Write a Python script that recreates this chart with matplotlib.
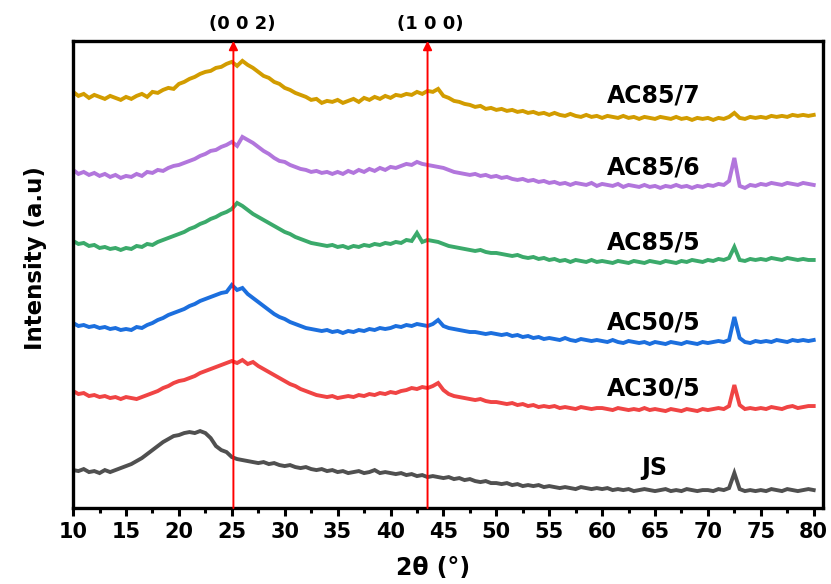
import numpy as np
import matplotlib
matplotlib.use("Agg")
import matplotlib.pyplot as plt
from matplotlib.ticker import MultipleLocator

plt.rcParams["font.family"] = ["DejaVu Sans"]
plt.rcParams["font.weight"] = "bold"

# 2theta grid (deg), 0.5 deg step
two_theta = np.arange(10.0, 80.01, 0.5)

# offset intensities (a.u.)
ac85_7 = [416, 412, 414, 410, 413, 411, 409, 412, 410, 408,
          411, 409, 412, 414, 411, 416, 415, 418, 420, 419,
          424, 426, 429, 431, 434, 436, 437, 440, 441, 444,
          446, 442, 447, 443, 440, 436, 432, 430, 426, 424,
          420, 418, 415, 413, 411, 408, 409, 405, 407, 406,
          408, 405, 407, 409, 406, 410, 408, 411, 409, 412,
          410, 413, 412, 414, 413, 416, 414, 417, 416, 419,
          412, 410, 407, 406, 404, 403, 401, 402, 399, 400,
          398, 399, 397, 398, 396, 397, 395, 396, 394, 395,
          393, 395, 393, 392, 394, 392, 391, 393, 391, 392,
          390, 392, 391, 390, 392, 390, 391, 389, 391, 390,
          389, 391, 390, 389, 391, 389, 390, 388, 390, 389,
          390, 388, 390, 389, 391, 395, 390, 389, 391, 390,
          391, 390, 392, 391, 392, 391, 393, 392, 393, 392,
          393]
ac85_6 = [338, 334, 336, 333, 335, 332, 334, 331, 333, 330,
          332, 331, 334, 332, 336, 335, 338, 337, 340, 342,
          343, 345, 347, 349, 352, 354, 357, 358, 361, 363,
          366, 362, 371, 368, 365, 361, 357, 354, 350, 347,
          346, 343, 341, 339, 338, 336, 337, 335, 336, 334,
          336, 334, 337, 335, 338, 336, 339, 337, 340, 338,
          341, 340, 342, 344, 343, 346, 344, 343, 342, 341,
          340, 338, 336, 335, 334, 333, 334, 332, 333, 331,
          332, 330, 331, 329, 328, 329, 327, 328, 326, 327,
          325, 326, 324, 325, 323, 325, 324, 323, 325, 322,
          324, 323, 322, 324, 321, 323, 322, 321, 323, 321,
          322, 320, 322, 321, 323, 321, 322, 320, 322, 321,
          323, 322, 324, 323, 327, 350, 322, 320, 323, 322,
          324, 323, 325, 324, 323, 325, 324, 323, 325, 324,
          323]
ac85_5 = [267, 264, 265, 262, 263, 260, 261, 259, 260, 258,
          260, 259, 262, 261, 264, 263, 266, 268, 270, 272,
          274, 276, 279, 281, 284, 286, 289, 291, 294, 296,
          299, 305, 302, 298, 294, 291, 288, 285, 282, 279,
          276, 274, 271, 269, 267, 265, 264, 263, 262, 263,
          261, 262, 260, 262, 261, 263, 262, 264, 263, 265,
          264, 266, 265, 268, 267, 275, 266, 268, 267, 266,
          264, 262, 261, 260, 259, 258, 257, 258, 256, 255,
          255, 254, 253, 252, 253, 251, 250, 251, 249, 250,
          248, 249, 247, 248, 246, 248, 247, 246, 248, 246,
          247, 246, 245, 247, 246, 245, 247, 246, 245, 247,
          246, 245, 247, 246, 245, 247, 246, 248, 247, 246,
          248, 247, 249, 248, 250, 261, 248, 247, 249, 248,
          249, 248, 250, 249, 248, 250, 249, 248, 249, 248,
          248]
ac50_5 = [185, 182, 183, 181, 182, 180, 181, 179, 180, 178,
          179, 178, 181, 180, 183, 185, 188, 190, 193, 195,
          197, 199, 202, 204, 207, 209, 211, 213, 215, 216,
          223, 218, 220, 214, 210, 206, 202, 198, 194, 191,
          189, 186, 184, 182, 180, 179, 178, 177, 178, 176,
          177, 175, 177, 176, 178, 177, 179, 178, 180, 179,
          180, 182, 181, 183, 182, 184, 183, 182, 184, 188,
          182, 180, 179, 178, 177, 176, 176, 175, 174, 175,
          174, 173, 174, 172, 173, 171, 172, 170, 171, 169,
          170, 169, 168, 170, 168, 167, 169, 168, 167, 168,
          167, 166, 168, 166, 165, 167, 166, 165, 166, 164,
          166, 165, 164, 166, 165, 164, 166, 165, 164, 166,
          165, 166, 167, 166, 168, 191, 170, 166, 165, 167,
          166, 167, 166, 168, 167, 166, 168, 167, 168, 167,
          168]
ac30_5 = [117, 114, 115, 112, 113, 111, 112, 110, 111, 109,
          111, 110, 109, 111, 113, 115, 117, 120, 122, 125,
          127, 128, 130, 132, 135, 137, 139, 141, 143, 145,
          147, 145, 148, 144, 146, 142, 139, 136, 133, 130,
          127, 124, 122, 119, 117, 115, 113, 112, 111, 112,
          110, 111, 112, 111, 113, 112, 114, 113, 115, 114,
          116, 115, 117, 118, 120, 119, 121, 120, 122, 125,
          118, 114, 112, 111, 110, 109, 108, 109, 107, 106,
          106, 105, 104, 105, 103, 104, 102, 103, 101, 102,
          101, 102, 100, 101, 100, 99, 101, 100, 99, 100,
          100, 99, 98, 100, 99, 98, 99, 98, 100, 98,
          99, 98, 97, 99, 98, 97, 99, 98, 97, 99,
          98, 99, 100, 99, 102, 123, 103, 99, 100, 99,
          100, 99, 101, 100, 99, 101, 102, 100, 101, 102,
          102]
js = [38, 37, 39, 36, 37, 35, 38, 36, 38, 40,
      42, 44, 47, 50, 54, 58, 62, 66, 69, 72,
      73, 75, 76, 75, 77, 75, 70, 62, 58, 56,
      51, 49, 48, 47, 46, 45, 46, 44, 45, 43,
      42, 43, 41, 40, 41, 39, 38, 39, 37, 38,
      36, 37, 35, 36, 37, 35, 36, 38, 35, 36,
      35, 34, 35, 33, 34, 32, 33, 31, 32, 31,
      30, 31, 29, 30, 28, 29, 27, 26, 27, 25,
      25, 24, 25, 23, 24, 22, 23, 22, 23, 21,
      22, 21, 20, 21, 20, 19, 21, 20, 19, 20,
      19, 20, 18, 19, 18, 19, 17, 18, 19, 18,
      17, 18, 19, 17, 18, 17, 19, 18, 17, 18,
      18, 17, 19, 18, 20, 35, 19, 17, 18, 17,
      18, 17, 19, 18, 17, 19, 18, 17, 18, 19,
      18]

series = [("AC85/7", ac85_7, "#D29C00", 412),
          ("AC85/6", ac85_6, "#B276DC", 340),
          ("AC85/5", ac85_5, "#3BAA6B", 265),
          ("AC50/5", ac50_5, "#1C6FDE", 186),
          ("AC30/5", ac30_5, "#F04444", 120),
          ("JS", js, "#505050", 40)]

peaks = [(25.15, "(0 0 2)", 26.0), (43.5, "(1 0 0)", 43.8)]

fig = plt.figure(figsize=(8.31, 5.84), dpi=100)
ax = fig.add_axes([0.088, 0.130, 0.902, 0.800])

for name, y, color, ylab in series:
    ax.plot(two_theta, y, color=color, lw=2.8, solid_joinstyle="miter")
    ax.text(64.9, ylab, name, ha="center", va="center", fontsize=17,
            fontweight="bold", color="black")

for pos, lab, lab_x in peaks:
    ax.annotate("", xy=(pos, 467), xytext=(pos, 0),
                arrowprops=dict(arrowstyle="-|>", color="red", lw=1.4,
                                mutation_scale=13, shrinkA=0, shrinkB=0))
    ax.text(lab_x, 484, lab, ha="center", va="center", fontsize=13,
            fontweight="bold", clip_on=False)

ax.set_xlim(10, 80.85)
ax.set_ylim(0, 467)
ax.xaxis.set_major_locator(MultipleLocator(5))
ax.xaxis.set_minor_locator(MultipleLocator(2.5))
ax.set_yticks([])
ax.tick_params(axis="x", which="major", direction="out", length=6, width=2.2,
               labelsize=15, pad=4)
ax.tick_params(axis="x", which="minor", direction="out", length=3.5, width=2.2)
ax.tick_params(top=False)
for lbl in ax.get_xticklabels():
    lbl.set_fontweight("bold")
for sp in ax.spines.values():
    sp.set_linewidth(2.4)

ax.set_xlabel("2θ (°)", fontsize=17, fontweight="bold")
ax.xaxis.set_label_coords(0.48, -0.103)
ax.set_ylabel("Intensity (a.u)", fontsize=16.5, fontweight="bold")
ax.yaxis.set_label_coords(-0.035, 0.535)

fig.savefig("out.png", dpi=100)
